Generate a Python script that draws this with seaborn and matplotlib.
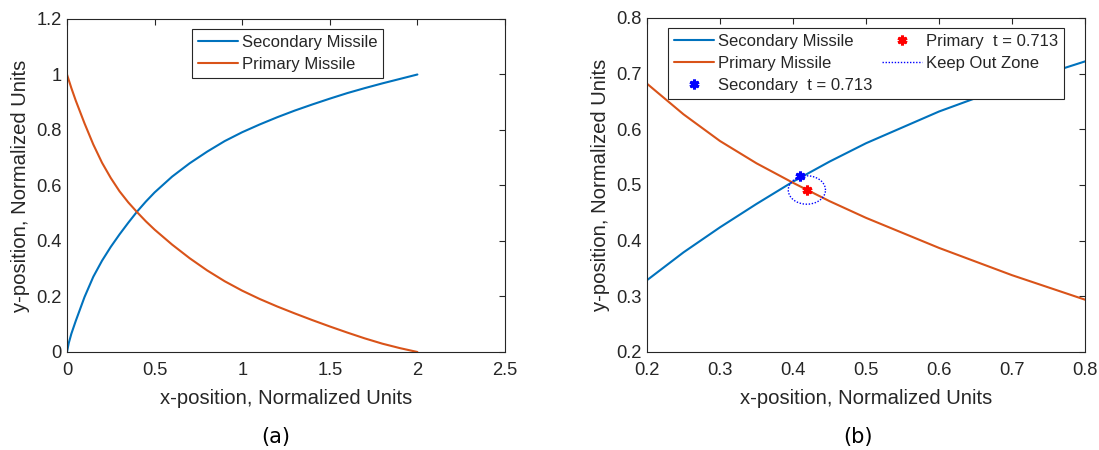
import numpy as np
import matplotlib
matplotlib.use("Agg")
import matplotlib.pyplot as plt
from matplotlib.lines import Line2D
from matplotlib.ticker import FuncFormatter
import seaborn as sns

# Trajectories (normalized units)
secondary_x = [0, 0.01, 0.025, 0.05, 0.1, 0.15, 0.2, 0.25, 0.3, 0.35, 0.4, 0.45, 0.5,
               0.6, 0.7, 0.8, 0.9, 1.0, 1.1, 1.2, 1.3, 1.4, 1.5, 1.6, 1.7, 1.8, 1.9, 2.0]
secondary_y = [0, 0.032, 0.066, 0.112, 0.198, 0.271, 0.329, 0.379, 0.424, 0.466, 0.506, 0.542,
               0.575, 0.632, 0.680, 0.722, 0.760, 0.792, 0.820, 0.846, 0.870, 0.892, 0.913,
               0.933, 0.951, 0.968, 0.984, 1.0]

primary_x = [0, 0.025, 0.05, 0.1, 0.15, 0.2, 0.25, 0.3, 0.35, 0.4, 0.45, 0.5,
             0.6, 0.7, 0.8, 0.9, 1.0, 1.1, 1.2, 1.3, 1.4, 1.5, 1.6, 1.7, 1.8, 1.9, 2.0]
primary_y = [1.0, 0.951, 0.906, 0.824, 0.748, 0.682, 0.627, 0.579, 0.539, 0.504, 0.471, 0.441,
             0.387, 0.338, 0.294, 0.255, 0.221, 0.191, 0.164, 0.139, 0.115, 0.092, 0.070,
             0.049, 0.030, 0.014, 0.0]

# Positions at t = 0.713 and the keep-out radius around the primary
t_value = 0.713
secondary_pos = (0.410, 0.517)
primary_pos = (0.419, 0.491)
keep_out_radius = 0.0255

BLUE = "#0072BD"
ORANGE = "#D95319"
AXC = "#262626"

sns.set_theme(style="white")
plt.rcParams["font.family"] = ["Liberation Sans", "DejaVu Sans"]
plt.rcParams.update({
    "axes.edgecolor": AXC,
    "axes.linewidth": 0.8,
    "xtick.color": AXC,
    "ytick.color": AXC,
    "axes.labelcolor": AXC,
    "text.color": AXC,
})

fig = plt.figure(figsize=(10.99, 4.5), dpi=100)
ax_a = fig.add_axes([0.06096, 0.21778, 0.39854, 0.74])
ax_b = fig.add_axes([0.58872, 0.21778, 0.39854, 0.74222])

fmt = FuncFormatter(lambda v, p: f"{v:g}")

def style_axes(ax, xlim, ylim, xticks, yticks):
    ax.set_xlim(*xlim)
    ax.set_ylim(*ylim)
    ax.set_xticks(xticks)
    ax.set_yticks(yticks)
    ax.xaxis.set_major_formatter(fmt)
    ax.yaxis.set_major_formatter(fmt)
    ax.tick_params(direction="in", length=4, width=0.8, top=True, right=True,
                   labelsize=13.2)
    ax.tick_params(axis="x", pad=7.5)
    ax.tick_params(axis="y", pad=4)
    for s in ax.spines.values():
        s.set_visible(True)
        s.set_color(AXC)
        s.set_linewidth(0.8)
    ax.set_xlabel("x-position, Normalized Units", fontsize=14.6)
    ax.set_ylabel("y-position, Normalized Units", fontsize=14.6)
    ax.xaxis.set_label_coords(0.5, -0.112)
    ax.yaxis.set_label_coords(-0.084, 0.5)

legend_kw = dict(fontsize=12, frameon=True, fancybox=False, framealpha=1,
                 edgecolor=AXC, borderpad=0.35, labelspacing=0.42,
                 handlelength=2.4, handletextpad=0.24, borderaxespad=0,
                 numpoints=1, loc="upper left")

# (a) full trajectories
sns.lineplot(x=secondary_x, y=secondary_y, ax=ax_a, color=BLUE, lw=1.5,
             sort=False, estimator=None)
sns.lineplot(x=primary_x, y=primary_y, ax=ax_a, color=ORANGE, lw=1.5,
             sort=False, estimator=None)
style_axes(ax_a, (0, 2.5), (0, 1.2), np.arange(0, 2.51, 0.5), np.arange(0, 1.21, 0.2))
h_sec = Line2D([], [], color=BLUE, lw=1.5)
h_pri = Line2D([], [], color=ORANGE, lw=1.5)
leg_a = ax_a.legend([h_sec, h_pri], ["Secondary Missile", "Primary Missile"],
                    bbox_to_anchor=(0.2854, 0.970), **legend_kw)
leg_a.get_frame().set_linewidth(0.8)

# (b) close-up around the crossing
sns.lineplot(x=secondary_x, y=secondary_y, ax=ax_b, color=BLUE, lw=1.5,
             sort=False, estimator=None)
sns.lineplot(x=primary_x, y=primary_y, ax=ax_b, color=ORANGE, lw=1.5,
             sort=False, estimator=None)
theta = np.linspace(0, 2 * np.pi, 240)
zone_x = primary_pos[0] + keep_out_radius * np.cos(theta)
zone_y = primary_pos[1] + keep_out_radius * np.sin(theta)
sns.lineplot(x=zone_x, y=zone_y, ax=ax_b, color="blue", lw=1.0,
             linestyle=(0, (1, 1.2)), sort=False, estimator=None)
star = (6, 2, 0)
ax_b.plot([secondary_pos[0]], [secondary_pos[1]], linestyle="none", marker=star,
          ms=7, mew=2.2, color="blue")
ax_b.plot([primary_pos[0]], [primary_pos[1]], linestyle="none", marker=star,
          ms=7, mew=2.2, color="red")
style_axes(ax_b, (0.2, 0.8), (0.2, 0.8), np.arange(0.2, 0.81, 0.1), np.arange(0.2, 0.81, 0.1))

h_sm = Line2D([], [], linestyle="none", marker=star, ms=7, mew=2.2, color="blue")
h_pm = Line2D([], [], linestyle="none", marker=star, ms=7, mew=2.2, color="red")
h_kz = Line2D([], [], color="blue", lw=1.0, linestyle=(0, (1, 1.2)))
leg_b = ax_b.legend([h_sec, h_pri, h_sm, h_pm, h_kz],
                    ["Secondary Missile", "Primary Missile",
                     f"Secondary  t = {t_value}", f"Primary  t = {t_value}",
                     "Keep Out Zone"],
                    ncols=2, columnspacing=0.6,
                    bbox_to_anchor=(0.048, 0.970), **legend_kw)
leg_b.get_frame().set_linewidth(0.8)

fig.text(276 / 1099, 1 - 437 / 450, "(a)", ha="center", va="center",
         fontsize=15, family="DejaVu Sans", color="black")
fig.text(858 / 1099, 1 - 437 / 450, "(b)", ha="center", va="center",
         fontsize=15, family="DejaVu Sans", color="black")

fig.savefig("out.png", dpi=100, facecolor="white")
